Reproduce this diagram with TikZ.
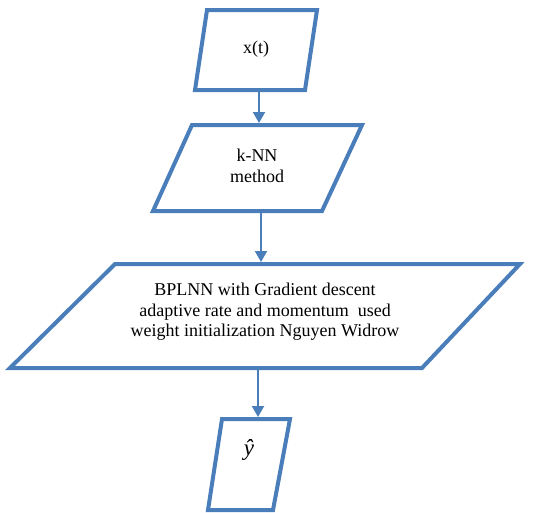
\documentclass[tikz,border=0pt]{standalone}
\usepackage{fontspec}
\setmainfont{Liberation Serif}
\newfontfamily\timesfont{Liberation Serif}
\usetikzlibrary{arrows.meta}
\definecolor{boxblue}{RGB}{74,126,187}
\tikzset{
  shapebox/.style={draw=boxblue,line width=4pt,line join=miter,fill=white},
  arr/.style={draw=boxblue,line width=2pt,-{Triangle[length=11pt,width=12pt]}},
  lbl/.style={font=\timesfont\fontsize{18}{20.5}\selectfont,align=center,inner sep=0pt,text=black}
}
\begin{document}
\begin{tikzpicture}[x=1pt,y=-1pt]
\useasboundingbox (0,0) rectangle (534,512);
% shapes
\draw[shapebox] (207,10) -- (317,10) -- (305,90) -- (195,90) -- cycle;
\draw[shapebox] (192,125) -- (362,125) -- (322,211) -- (153,211) -- cycle;
\draw[shapebox] (115,264) -- (520,264) -- (422,368) -- (10,368) -- cycle;
\draw[shapebox] (222,419) -- (290,419) -- (273,510) -- (208,510) -- cycle;
% texts
\node[lbl] (t1) at (256,49) {x(t)};
\node[lbl] (t2) at (257,166) {k-NN\\method};
\node[lbl] (t3) at (265,312) {BPLNN with Gradient descent\\adaptive rate and momentum\ \ used\\weight initialization Nguyen Widrow};
\node[lbl,font=\timesfont\fontsize{23}{26}\selectfont\itshape] (t4) at (249,450) {ŷ};
% connector ends
\coordinate (a1s) at (259,92);
\coordinate (a1e) at (259,123);
\coordinate (a2s) at (261,213);
\coordinate (a2e) at (261,262);
\coordinate (a3s) at (258,370);
\coordinate (a3e) at (258,417);
\draw[arr] (a1s) -- (a1e);
\draw[arr] (a2s) -- (a2e);
\draw[arr] (a3s) -- (a3e);
\end{tikzpicture}
\end{document}
